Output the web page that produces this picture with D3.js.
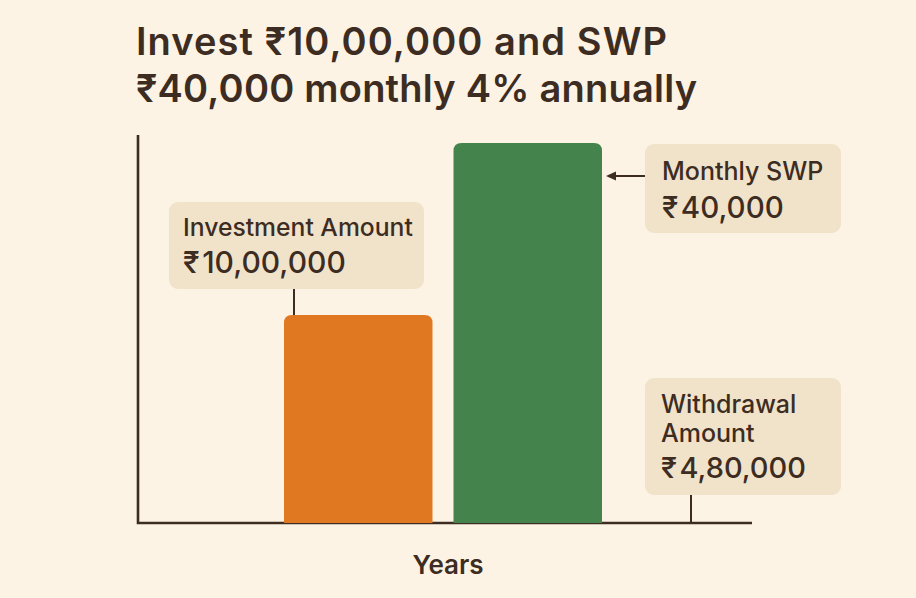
<!DOCTYPE html>
<html><head><meta charset="utf-8">
<script src="https://cdn.jsdelivr.net/npm/d3@7"></script>
<style>html,body{margin:0;padding:0;background:#fcf3e4}svg{display:block}text{font-family:Inter,"Noto Sans",sans-serif;fill:#3d2c22}</style>
</head><body><svg id="c" width="916" height="598"></svg>
<script>
const titleLines = ["Invest ₹10,00,000 and SWP", "₹40,000 monthly 4% annually"];
const categories = ["Investment Amount", "Monthly SWP"];
const barValues = [1000000, 1827000];
const barColors = ["#e07822", "#44844c"];
const axisLabel = "Years";
const callouts = [
  {lines:["Investment Amount"], value:"₹\u200a10,00,000", box:[169,202,255,87], tx:183, ty:[236,273], size:[24.7,30]},
  {lines:["Monthly SWP"], value:"₹\u200a40,000", box:[645,144,196,89], tx:662, ty:[180,218], size:[25,29.5]},
  {lines:["Withdrawal","Amount"], value:"₹\u200a4,80,000", box:[645,378,196,117], tx:661, ty:[413,442,478], size:[25,29]}
];

const svg = d3.select("#c");
const x = d3.scaleBand().domain(categories).range([284,602]).paddingInner(0.124);
const y = d3.scaleLinear().domain([0,1865000]).range([523,135]);
const ink = "#3d2c22";

svg.selectAll(".t").data(titleLines).join("text").attr("class","t")
  .attr("x",136).attr("y",(d,i)=>[55,102][i])
  .attr("font-size",38).attr("font-weight",600)
  .attr("textLength",(d,i)=>[531,561][i]).attr("lengthAdjust","spacing").text(d=>d);

svg.append("path").attr("d",`M138 ${y.range()[1]}V${y(0)}H752`).attr("fill","none").attr("stroke",ink).attr("stroke-width",2.6);

svg.selectAll(".bar").data(categories).join("path").attr("class","bar")
  .attr("fill",(d,i)=>barColors[i])
  .attr("d",(d,i)=>{
    const l=x(d), w=x.bandwidth(), t=y(barValues[i]), b=y(0), r=8;
    return `M${l} ${b}V${t+r}Q${l} ${t} ${l+r} ${t}H${l+w-r}Q${l+w} ${t} ${l+w} ${t+r}V${b}Z`;
  });

const conn = svg.append("g").attr("stroke",ink).attr("stroke-width",2).attr("fill","none");
conn.append("line").attr("x1",294).attr("x2",294).attr("y1",289).attr("y2",y(barValues[0]));
conn.append("line").attr("x1",691).attr("x2",691).attr("y1",495).attr("y2",y(0));
conn.append("line").attr("x1",645).attr("x2",612).attr("y1",176).attr("y2",176);
svg.append("path").attr("d","M606 176L616 171.5V180.5Z").attr("fill",ink);

callouts.forEach(c=>{
  const g=svg.append("g");
  g.append("rect").attr("x",c.box[0]).attr("y",c.box[1]).attr("width",c.box[2]).attr("height",c.box[3]).attr("rx",9).attr("fill","#f0e3ca");
  c.lines.forEach((l,i)=>g.append("text").attr("x",c.tx).attr("y",c.ty[i]).attr("font-size",c.size[0]).attr("font-weight",500).text(l));
  g.append("text").attr("x",c.tx).attr("y",c.ty[c.lines.length]).attr("font-size",c.size[1]).attr("font-weight",500).text(c.value);
});

svg.append("text").attr("x",448).attr("y",574).attr("text-anchor","middle").attr("font-size",26).attr("font-weight",600).text(axisLabel);
</script></body></html>
